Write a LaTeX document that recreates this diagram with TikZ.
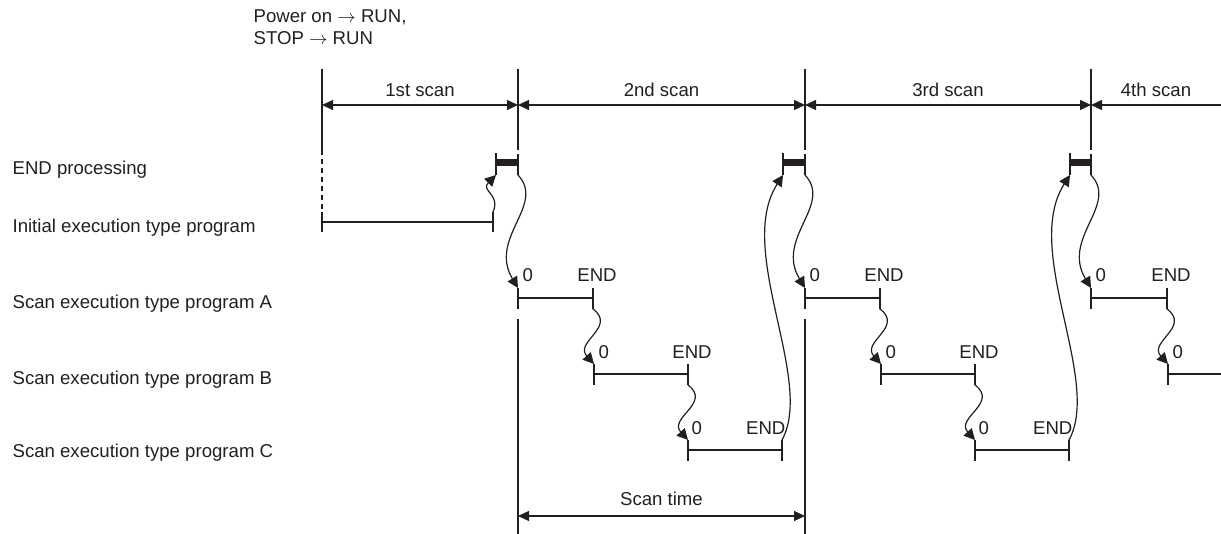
\documentclass[tikz,border=0pt]{standalone}
\usepackage{fontspec}
\setmainfont{Liberation Sans}
\usetikzlibrary{arrows.meta}
\definecolor{ink}{RGB}{35,31,32}

\begin{document}
\begin{tikzpicture}[x=0.5pt,y=-0.5pt,line width=0.6pt,color=ink,
  font=\fontsize{9.3pt}{11pt}\selectfont,
  txt/.style={inner sep=0pt,anchor=base west},
  lbl/.style={inner sep=0pt,anchor=base},
  wave/.style={-{Triangle[length=5.5pt,width=5.5pt]}},
  span/.style={{Triangle[length=5.5pt,width=5pt]}-{Triangle[length=5.5pt,width=5pt]}},
  endproc/.style={line width=3.5pt}]
\useasboundingbox (0,0) rectangle (1221,534);
%% row names
\node[txt] (pwr1) at (253,23) {Power on $\rightarrow$ RUN,};
\node[txt] (pwr2) at (253,45) {STOP $\rightarrow$ RUN};
\node[txt] (lend) at (12,175) {END processing};
\node[txt] (lini) at (12,233) {Initial execution type program};
\node[txt] (lpa) at (12,308) {Scan execution type program A};
\node[txt] (lpb) at (12,385) {Scan execution type program B};
\node[txt] (lpc) at (12,457) {Scan execution type program C};
\path
(322,69) coordinate (v0t) (322,150) coordinate (v0b)
(518,69) coordinate (v1t) (518,150) coordinate (v1b)
(805,69) coordinate (v2t) (805,150) coordinate (v2b)
(1091,69) coordinate (v3t) (1091,150) coordinate (v3b)
(518,319) coordinate (w1t) (518,534) coordinate (w1b)
(805,319) coordinate (w2t) (805,534) coordinate (w2b)
(322,105) coordinate (h0) (518,105) coordinate (h1) (805,105) coordinate (h2)
(1091,105) coordinate (h3) (1221,105) coordinate (h4)
(518,516) coordinate (st0) (805,516) coordinate (st1)
%% bars: left end, right end
(322,222) coordinate (I) (493,222) coordinate (Ie)
(496,163) coordinate (E1) (518,163) coordinate (E1e)
(518,298) coordinate (A1) (593,298) coordinate (A1e)
(594,374) coordinate (B1) (688,374) coordinate (B1e)
(688,450) coordinate (C1) (782,450) coordinate (C1e)
(783,163) coordinate (E2) (805,163) coordinate (E2e)
(805,298) coordinate (A2) (880,298) coordinate (A2e)
(881,374) coordinate (B2) (975,374) coordinate (B2e)
(975,450) coordinate (C2) (1069,450) coordinate (C2e)
(1070,163) coordinate (E3) (1091,163) coordinate (E3e)
(1091,298) coordinate (A3) (1167,298) coordinate (A3e)
(1168,374) coordinate (B3) (1221,374) coordinate (B3e)
%% tick ends where the arrows start / stop
(322,212) coordinate (It) (493,212) coordinate (Iet)
(496,175) coordinate (E1b) (518,175) coordinate (E1eb)
(518,288) coordinate (A1t) (593,309) coordinate (A1eb)
(594,364) coordinate (B1t) (688,385) coordinate (B1eb)
(688,440) coordinate (C1t) (782,440) coordinate (C1et)
(783,175) coordinate (E2b) (805,175) coordinate (E2eb)
(805,288) coordinate (A2t) (880,309) coordinate (A2eb)
(881,364) coordinate (B2t) (975,385) coordinate (B2eb)
(975,440) coordinate (C2t) (1069,440) coordinate (C2et)
(1070,175) coordinate (E3b) (1091,175) coordinate (E3eb)
(1091,288) coordinate (A3t) (1167,309) coordinate (A3eb)
(1168,364) coordinate (B3t);
%% scan borders
\draw (v0t)--(v0b);
\draw (v1t)--(v1b);
\draw (v2t)--(v2b);
\draw (v3t)--(v3b);
\draw (w1t)--(w1b);
\draw (w2t)--(w2b);
\draw[dash pattern=on 2.5pt off 2pt] (v0b)--(It);
\draw[span] (h0)-- node[above=4pt,inner sep=0pt] (s1) {1st scan} (h1);
\draw[span] (h1)-- node[above=4pt,inner sep=0pt] (s2) {2nd scan} (h2);
\draw[span] (h2)-- node[above=4pt,inner sep=0pt] (s3) {3rd scan} (h3);
\draw[{Triangle[length=5.5pt,width=5pt]}-] (h3)-- node[above=4pt,inner sep=0pt] (s4) {4th scan} (h4);
\draw[span] (st0)-- node[above=5pt,inner sep=0pt] (stime) {Scan time} (st1);
%% program bars
\draw (I)--(Ie) (I) +(0,-10) -- +(0,10) (Ie) +(0,-10) -- +(0,10);
\draw (A1)--(A1e) (A1) +(0,-10) -- +(0,11) (A1e) +(0,-10) -- +(0,11);
\draw (B1)--(B1e) (B1) +(0,-10) -- +(0,11) (B1e) +(0,-10) -- +(0,11);
\draw (C1)--(C1e) (C1) +(0,-10) -- +(0,11) (C1e) +(0,-10) -- +(0,11);
\draw (A2)--(A2e) (A2) +(0,-10) -- +(0,11) (A2e) +(0,-10) -- +(0,11);
\draw (B2)--(B2e) (B2) +(0,-10) -- +(0,11) (B2e) +(0,-10) -- +(0,11);
\draw (C2)--(C2e) (C2) +(0,-10) -- +(0,11) (C2e) +(0,-10) -- +(0,11);
\draw (A3)--(A3e) (A3) +(0,-10) -- +(0,11) (A3e) +(0,-10) -- +(0,11);
\draw (B3)--(B3e) (B3) +(0,-10) -- +(0,11);
%% END processing
\draw[endproc] (E1)--(E1e);
\draw[endproc] (E2)--(E2e);
\draw[endproc] (E3)--(E3e);
\draw (E1) +(0,-10) -- +(0,12) (E1e) +(0,-9) -- +(0,12);
\draw (E2) +(0,-10) -- +(0,12) (E2e) +(0,-9) -- +(0,12);
\draw (E3) +(0,-10) -- +(0,12) (E3e) +(0,-9) -- +(0,12);
%% step labels
\node[lbl,anchor=base west] (a1z) at (522,282) {0};
\node[lbl] (a1x) at (597,282) {END};
\node[lbl,anchor=base west] (b1z) at (598,358) {0};
\node[lbl] (b1x) at (692,358) {END};
\node[lbl,anchor=base west] (c1z) at (691,434) {0};
\node[lbl,anchor=base east] (c1x) at (786,434) {END};
\node[lbl,anchor=base west] (a2z) at (809,282) {0};
\node[lbl] (a2x) at (884,282) {END};
\node[lbl,anchor=base west] (b2z) at (885,358) {0};
\node[lbl] (b2x) at (979,358) {END};
\node[lbl,anchor=base west] (c2z) at (978,434) {0};
\node[lbl,anchor=base east] (c2x) at (1073,434) {END};
\node[lbl,anchor=base west] (a3z) at (1095,282) {0};
\node[lbl] (a3x) at (1171,282) {END};
\node[lbl,anchor=base west] (b3z) at (1172,358) {0};
%% flow of execution
\draw[wave] (Iet) .. controls +(8,-18) and +(-16,16) .. (E1b);
\draw[wave] (E1eb) .. controls +(28,30) and +(-30,-50) .. (A1t);
\draw[wave] (A1eb) .. controls +(24,18) and +(-20,-22) .. (B1t);
\draw[wave] (B1eb) .. controls +(24,18) and +(-20,-22) .. (C1t);
\draw[wave] (C1et) .. controls +(33,-60) and +(-48,75) .. (E2b);
\draw[wave] (E2eb) .. controls +(28,30) and +(-30,-50) .. (A2t);
\draw[wave] (A2eb) .. controls +(24,18) and +(-20,-22) .. (B2t);
\draw[wave] (B2eb) .. controls +(24,18) and +(-20,-22) .. (C2t);
\draw[wave] (C2et) .. controls +(33,-60) and +(-48,75) .. (E3b);
\draw[wave] (E3eb) .. controls +(28,30) and +(-30,-50) .. (A3t);
\draw[wave] (A3eb) .. controls +(24,18) and +(-20,-22) .. (B3t);
\end{tikzpicture}
\end{document}
